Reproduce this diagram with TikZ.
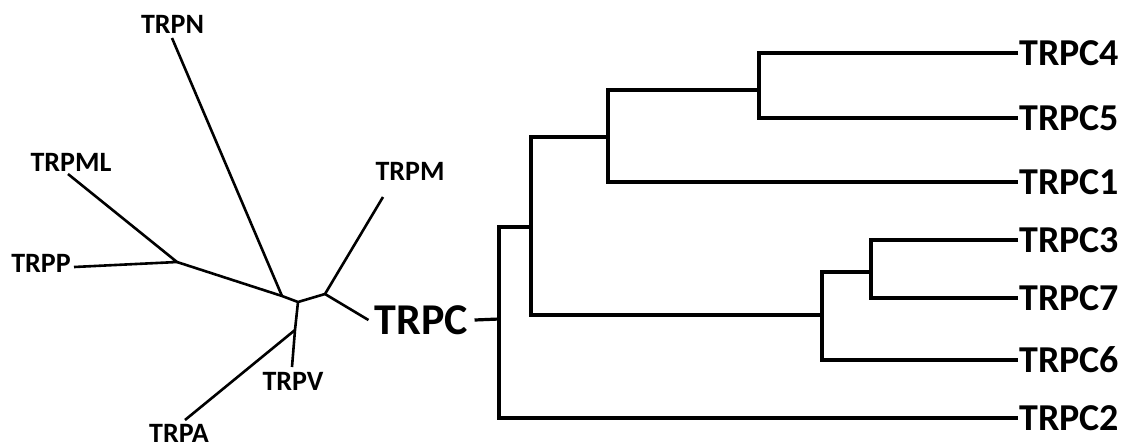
\documentclass[tikz,border=0pt]{standalone}
\usepackage{fontspec}
\setmainfont{Carlito}
\usetikzlibrary{positioning}

\begin{document}
\begin{tikzpicture}[x=0.5pt,y=-0.5pt,
  every node/.style={inner sep=0pt},
  fam/.style={font=\fontsize{14}{16}\selectfont\bfseries},
  leaf/.style={font=\fontsize{19}{22}\selectfont\bfseries, anchor=west, inner sep=0.5pt},
  branch/.style={line width=1.3pt},
  clade/.style={line width=1.6pt}]
\useasboundingbox (0,0) rectangle (1126,447);
% unrooted family tree
\foreach \nm/\x/\y in {N/172.5/24,ML/71/162,P/41/263,M/410/171,V/293/381,A/179/433}
  \node[fam] (trp\nm) at (\x,\y) {TRP\nm};
\foreach \nm/\x/\y in {N/172/38,ML/68/174,P/74/267,M/383/197,V/292/367,A/185/420}
  \coordinate (t\nm) at (\x,\y);
\coordinate (j1) at (177,262);
\coordinate (ja) at (282,296);
\coordinate (j2) at (298,302);
\coordinate (j3) at (325,294);
\coordinate (j4) at (295,330);
\node[font=\fontsize{22}{26}\selectfont\bfseries, inner sep=3pt] (trpc) at (421.5,320) {TRPC};
\draw[branch] (tML) -- (j1) -- (tP);
\draw[branch] (j1) -- (ja) -- (j2) -- (j3) -- (tM);
\draw[branch] (tN) -- (ja);
\draw[branch] (j3) -- (trpc.west);
\draw[branch] (j2) -- (j4) -- (tV);
\draw[branch] (j4) -- (tA);
% TRPC subfamily
\foreach \nm/\y in {4/53,5/118,1/182,3/240,7/298,6/360,2/418}
  \node[leaf] (trpc\nm) at (1018,\y) {TRPC\nm};
\coordinate (root) at (499,319);
\coordinate (n1) at (531,227);
\coordinate (n2) at (608,137);
\coordinate (n3) at (759,90);
\coordinate (n4) at (822,315);
\coordinate (n5) at (871,272);
\draw[clade] (trpc.east) -- (root);
\draw[clade] (n1) -| (root) |- (trpc2.west);
\draw[clade] (n2) -| (n1) |- (n4);
\draw[clade] (n3) -| (n2) |- (trpc1.west);
\draw[clade] (trpc4.west) -| (n3) |- (trpc5.west);
\draw[clade] (n5) -| (n4) |- (trpc6.west);
\draw[clade] (trpc3.west) -| (n5) |- (trpc7.west);
\end{tikzpicture}
\end{document}
